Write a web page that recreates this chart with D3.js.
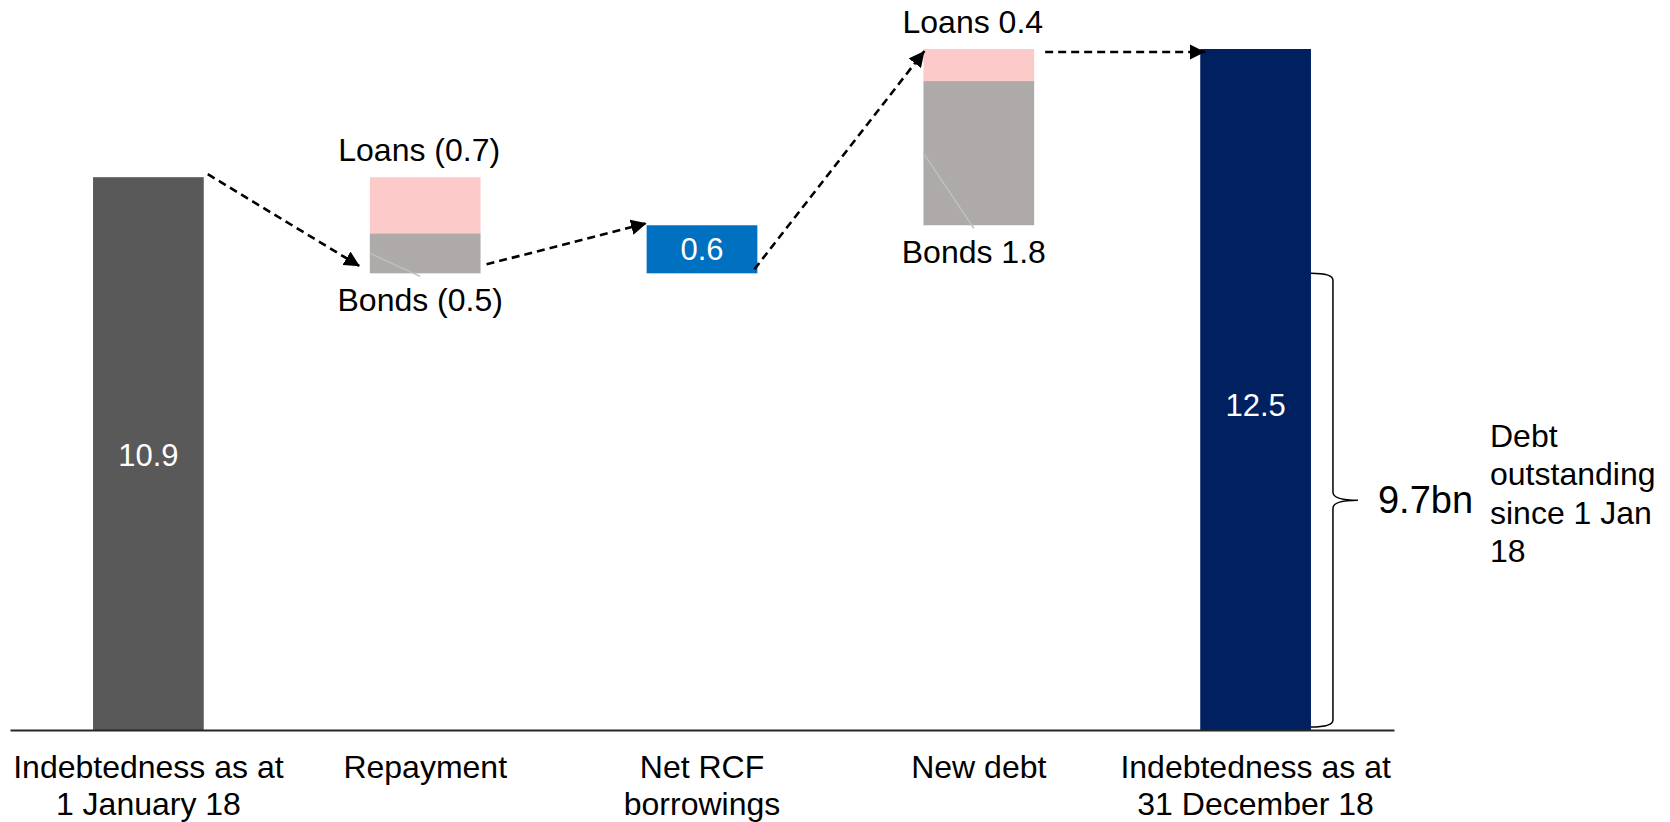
<!DOCTYPE html>
<html>
<head>
<meta charset="utf-8">
<script src="https://cdn.jsdelivr.net/npm/d3@7"></script>
<style>
  html, body { margin: 0; padding: 0; background: #ffffff; }
  svg { display: block; font-family: "Liberation Sans", Arial, Helvetica, sans-serif; }
</style>
</head>
<body>
<svg id="chart" width="1670" height="822"></svg>
<script>
// Debt bridge 2018 (EUR bn)
const categories = [
  "Indebtedness as at 1 January 18",
  "Repayment",
  "Net RCF borrowings",
  "New debt",
  "Indebtedness as at 31 December 18"
];
const categoryLines = [
  ["Indebtedness as at", "1 January 18"],
  ["Repayment"],
  ["Net RCF", "borrowings"],
  ["New debt"],
  ["Indebtedness as at", "31 December 18"]
];
const openingDebt = 10.9;
const closingDebt = 12.5;
const loanMoves = [0, -0.7, 0, 0.4, 0];
const bondMoves = [0, -0.5, 0, 1.8, 0];
const rcfMoves  = [0, 0, 0.6, 0, 0];
const axisFloor = 4;           // value axis is cut off below this level
const outstandingSinceStart = 9.7;
const outstandingLabel = "9.7bn";
const outstandingNote = ["Debt", "outstanding", "since 1 Jan", "18"];

const colors = {
  total0: "#595959",
  total1: "#002060",
  loans: "#FDCACA",
  bonds: "#AEAAAA",
  rcf: "#0070C0"
};
const fontSize = 32;

const svg = d3.select("#chart");

const x = d3.scaleBand()
  .domain(categories)
  .range([10, 1394])
  .paddingInner(0.6)
  .paddingOuter(0.3);

const y = d3.scaleLinear()
  .domain([axisFloor, closingDebt])
  .range([730, 49]);

// Build waterfall steps
const steps = [];
let level = openingDebt;
categories.forEach((c, i) => {
  if (i === 0) {
    steps.push({ cat: c, kind: "total", from: axisFloor, to: openingDebt, color: colors.total0, value: openingDebt, dy: 12 });
  } else if (i === categories.length - 1) {
    steps.push({ cat: c, kind: "total", from: axisFloor, to: closingDebt, color: colors.total1, value: closingDebt, dy: 26 });
  } else {
    const delta = loanMoves[i] + bondMoves[i] + rcfMoves[i];
    const start = level, end = level + delta;
    steps.push({ cat: c, kind: "move", from: start, to: end, loans: loanMoves[i], bonds: bondMoves[i], rcf: rcfMoves[i] });
    level = end;
  }
});

const fmtMove = v => v < 0 ? `(${d3.format(".1f")(-v)})` : d3.format(".1f")(v);

const bars = svg.append("g");
const labels = svg.append("g");

steps.forEach((s, i) => {
  const x0 = x(s.cat), w = x.bandwidth(), cx = x0 + w / 2;
  if (s.kind === "total") {
    bars.append("rect")
      .attr("x", x0).attr("width", w)
      .attr("y", y(s.to)).attr("height", y(s.from) - y(s.to))
      .attr("fill", s.color);
    const mid = (y(s.to) + y(s.from)) / 2;
    labels.append("text")
      .attr("x", cx).attr("y", mid + s.dy)
      .attr("text-anchor", "middle")
      .attr("fill", "#ffffff").attr("font-size", 31)
      .text(d3.format(".1f")(s.value));
  } else if (s.rcf !== 0) {
    const lo = Math.min(s.from, s.to), hi = Math.max(s.from, s.to);
    bars.append("rect")
      .attr("x", x0).attr("width", w)
      .attr("y", y(hi)).attr("height", y(lo) - y(hi))
      .attr("fill", colors.rcf);
    labels.append("text")
      .attr("x", cx).attr("y", (y(lo) + y(hi)) / 2 + 11)
      .attr("text-anchor", "middle")
      .attr("fill", "#ffffff").attr("font-size", 31)
      .text(fmtMove(s.rcf));
  } else {
    // bonds sit in the lower part of the step, loans above them
    const lo = Math.min(s.from, s.to);
    const bTop = lo + Math.abs(s.bonds);
    const lTop = bTop + Math.abs(s.loans);
    bars.append("rect")
      .attr("x", x0).attr("width", w)
      .attr("y", y(bTop)).attr("height", y(lo) - y(bTop))
      .attr("fill", colors.bonds);
    bars.append("rect")
      .attr("x", x0).attr("width", w)
      .attr("y", y(lTop)).attr("height", y(bTop) - y(lTop))
      .attr("fill", colors.loans);
    // leader line from the bonds segment to its label
    labels.append("line")
      .attr("x1", x0).attr("y1", y((lo + bTop) / 2))
      .attr("x2", cx - 5).attr("y2", y(lo) + 3)
      .attr("stroke", "#BFBFBF").attr("stroke-width", 1.5);
    labels.append("text")
      .attr("x", cx - 6).attr("y", y(lTop) - 16)
      .attr("text-anchor", "middle")
      .attr("fill", "#000000").attr("font-size", fontSize)
      .text(`Loans ${fmtMove(s.loans)}`);
    labels.append("text")
      .attr("x", cx - 5).attr("y", y(lo) + 38)
      .attr("text-anchor", "middle")
      .attr("fill", "#000000").attr("font-size", fontSize)
      .text(`Bonds ${fmtMove(s.bonds)}`);
  }
});

// Category axis
const axis = svg.append("g")
  .attr("transform", `translate(0,${y(axisFloor)})`)
  .call(d3.axisBottom(x).tickSize(0).tickFormat(""));
axis.select(".domain").attr("stroke", "#262626").attr("stroke-width", 2);
axis.selectAll(".tick").each(function (d) {
  const lines = categoryLines[categories.indexOf(d)];
  const t = d3.select(this).append("text")
    .attr("fill", "#000000")
    .attr("font-size", fontSize)
    .attr("text-anchor", "middle")
    .attr("font-family", "\"Liberation Sans\", Arial, sans-serif");
  lines.forEach((ln, k) => {
    t.append("tspan").attr("x", 0).attr("y", 48 + k * 37).text(ln);
  });
});

// Dashed connectors between steps
svg.append("defs").append("marker")
  .attr("id", "arrowhead")
  .attr("viewBox", "0 0 10 10")
  .attr("refX", 10).attr("refY", 5)
  .attr("markerWidth", 6).attr("markerHeight", 6)
  .attr("markerUnits", "strokeWidth")
  .attr("orient", "auto")
  .append("path").attr("d", "M0,0 L10,5 L0,10 Z").attr("fill", "#000000");

const right = c => x(c) + x.bandwidth();
const left = c => x(c);
const connectors = [
  { x1: right(categories[0]) + 4,  y1: y(steps[0].to) - 3, x2: left(categories[1]) - 10, y2: y(steps[1].to) - 7 },
  { x1: right(categories[1]) + 6,  y1: y(steps[1].to) - 9, x2: left(categories[2]),      y2: y(steps[2].to) - 2 },
  { x1: right(categories[2]) - 3,  y1: y(steps[2].from) - 4, x2: left(categories[3]) + 1, y2: y(steps[3].to) + 2 },
  { x1: right(categories[3]) + 11, y1: y(steps[3].to) + 3, x2: left(categories[4]) + 5,  y2: y(steps[4].to) + 3 }
];
svg.append("g").selectAll("line").data(connectors).join("line")
  .attr("x1", d => d.x1).attr("y1", d => d.y1)
  .attr("x2", d => d.x2).attr("y2", d => d.y2)
  .attr("stroke", "#000000").attr("stroke-width", 2.6)
  .attr("stroke-dasharray", "8,5")
  .attr("marker-end", "url(#arrowhead)");

// Brace marking debt still outstanding from the opening balance
const bx0 = right(categories[4]);
const bx1 = bx0 + 22, tip = bx0 + 47;
const bTop = y(outstandingSinceStart), bBot = y(axisFloor) - 3;
const bMid = (bTop + bBot) / 2;
svg.append("path")
  .attr("d", `M${bx0},${bTop} Q${bx1},${bTop} ${bx1},${bTop + 7}
              L${bx1},${bMid - 8} Q${bx1},${bMid} ${tip},${bMid}
              Q${bx1},${bMid} ${bx1},${bMid + 8}
              L${bx1},${bBot - 7} Q${bx1},${bBot} ${bx0},${bBot}`)
  .attr("fill", "none").attr("stroke", "#000000").attr("stroke-width", 1.5);

svg.append("text")
  .attr("x", tip + 20).attr("y", bMid + 13)
  .attr("font-size", 38).attr("fill", "#000000")
  .text(outstandingLabel);

const note = svg.append("text").attr("font-size", fontSize).attr("fill", "#000000");
outstandingNote.forEach((ln, k) => {
  note.append("tspan").attr("x", 1490).attr("y", 447 + k * 38.3).text(ln);
});
</script>
</body>
</html>
